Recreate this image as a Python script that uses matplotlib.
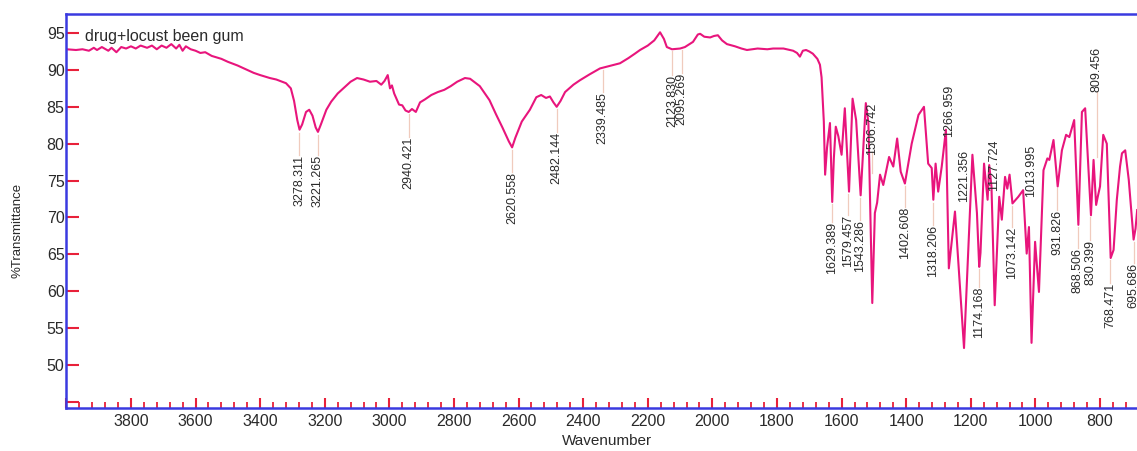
import numpy as np
import matplotlib
matplotlib.use("Agg")
import matplotlib.pyplot as plt

# spectrum (wavenumber, %T)
wavenumber = [
    4000, 3970, 3950, 3930, 3915, 3905, 3890, 3870, 3860, 3845, 3830, 3815, 3800,
    3785, 3770, 3750, 3735, 3720, 3705, 3690, 3675, 3660, 3650, 3640, 3630, 3615,
    3600, 3585, 3570, 3550, 3520, 3500, 3470, 3450, 3420, 3400, 3370, 3350, 3320,
    3305, 3295, 3285, 3278, 3270, 3258, 3248, 3238, 3228, 3221, 3212, 3195, 3180,
    3160, 3140, 3120, 3100, 3080, 3060, 3040, 3025, 3015, 3005, 2998, 2992, 2985,
    2970, 2960, 2950, 2940, 2930, 2918, 2905, 2890, 2870, 2850, 2830, 2810, 2790,
    2766, 2750, 2720, 2690, 2670, 2650, 2630, 2620, 2610, 2590, 2565, 2545, 2530,
    2515, 2503, 2492, 2482, 2470, 2456, 2430, 2410, 2380, 2348, 2339, 2320, 2286,
    2260, 2240, 2224, 2200, 2180, 2162, 2150, 2141, 2125, 2100, 2085, 2060, 2045,
    2038, 2025, 2007, 1995, 1983, 1970, 1955, 1930, 1910, 1893, 1860, 1830, 1812,
    1780, 1750, 1738, 1729, 1720, 1710, 1700, 1689, 1675, 1667, 1662, 1655, 1651,
    1645, 1636, 1629, 1624, 1618, 1610, 1600, 1590, 1577, 1566, 1555, 1541, 1525,
    1517, 1505, 1497, 1490, 1481, 1471, 1453, 1440, 1428, 1417, 1404, 1383, 1362,
    1345, 1332, 1321, 1316, 1309, 1301, 1290, 1277, 1268, 1249, 1221, 1195, 1181,
    1174, 1170, 1159, 1148, 1143, 1136, 1126, 1112, 1104, 1094, 1087, 1080, 1071,
    1053, 1038, 1027, 1020, 1012, 1001, 989, 975, 963, 957, 944, 931, 918, 905,
    895, 880, 867, 856, 846, 828, 820, 812, 807, 800, 790, 779, 767, 758, 748,
    738, 732, 722, 711, 696, 690, 685,
]
transmittance = [
    92.8, 92.7, 92.8, 92.6, 93.0, 92.7, 93.1, 92.6, 93.0, 92.4, 93.1, 92.9, 93.2,
    92.9, 93.3, 93.0, 93.3, 92.8, 93.3, 93.0, 93.5, 92.9, 93.4, 92.6, 93.2, 92.8,
    92.6, 92.3, 92.4, 91.9, 91.5, 91.1, 90.6, 90.2, 89.6, 89.3, 88.9, 88.7, 88.2,
    87.5, 85.8, 83.2, 81.9, 82.6, 84.3, 84.6, 83.8, 82.2, 81.6, 82.6, 84.6, 85.7,
    86.8, 87.6, 88.4, 88.9, 88.7, 88.4, 88.5, 88.0, 88.5, 89.3, 87.5, 87.9, 86.8,
    85.3, 85.2, 84.5, 84.3, 84.7, 84.3, 85.6, 86.0, 86.6, 87.0, 87.3, 87.8, 88.4,
    88.9, 88.8, 87.8, 85.9, 84.0, 82.2, 80.3, 79.5, 80.8, 83.0, 84.6, 86.3, 86.6,
    86.2, 86.4, 85.6, 85.0, 85.8, 87.0, 88.0, 88.6, 89.4, 90.2, 90.3, 90.5, 90.9,
    91.6, 92.2, 92.7, 93.3, 94.0, 95.1, 94.2, 93.1, 92.8, 92.9, 93.1, 93.8, 94.8,
    94.9, 94.5, 94.4, 94.6, 94.7, 94.0, 93.5, 93.2, 92.9, 92.7, 92.9, 92.8, 92.9,
    92.9, 92.6, 92.3, 91.8, 92.6, 92.7, 92.5, 92.2, 91.5, 90.7, 89.0, 83.0, 75.8,
    79.5, 82.8, 72.1, 78.0, 82.3, 81.0, 78.5, 84.8, 73.5, 86.1, 83.2, 73.0, 85.5,
    82.8, 58.4, 70.6, 72.0, 75.8, 74.4, 78.2, 76.9, 80.7, 76.2, 74.6, 80.0, 83.9,
    85.0, 77.3, 76.7, 72.4, 77.3, 73.5, 76.9, 81.9, 63.1, 70.8, 52.3, 78.5, 70.6,
    63.3, 65.2, 77.3, 72.4, 77.1, 74.2, 58.1, 72.8, 69.7, 75.5, 73.9, 75.8, 71.9,
    72.8, 73.7, 65.1, 68.7, 53.0, 66.7, 59.9, 76.4, 78.0, 77.8, 80.5, 74.2, 79.1, 81.2,
    80.9, 83.2, 69.0, 84.3, 84.8, 70.3, 77.8, 71.7, 72.8, 74.2, 81.2, 80.0, 64.5, 65.6, 72.4,
    76.9, 78.7, 79.1, 75.1, 67.0, 68.5, 71.0,
]

# peak labels
peak_labels = [
    "3278.311", "3221.265", "2940.421", "2620.558", "2482.144", "2339.485",
    "2123.830", "2095.269", "1629.389", "1579.457", "1543.286", "1506.742",
    "1402.608", "1318.206", "1266.959", "1221.356", "1174.168", "1127.724",
    "1073.142", "1013.995", "931.826", "868.506", "830.399", "809.456",
    "768.471", "695.686",
]
label_top = [
    78.5, 78.5, 80.9, 76.2, 81.6, 87.0, 89.3, 89.6, 69.4, 70.3, 69.6, 85.5,
    71.4, 69.0, 88.0, 79.1, 60.6, 80.5, 68.7, 79.8, 71.0, 65.9, 67.0, 93.1,
    61.1, 63.8,
]
leader_lo = [
    78.5, 78.5, 80.9, 76.2, 81.6, 87.0, 89.3, 89.6, 69.4, 70.3, 69.6, 76.0,
    71.4, 69.0, 82.1, 72.4, 60.6, 74.1, 68.7, 73.2, 71.0, 65.9, 67.0, 78.2,
    61.1, 63.8,
]
leader_hi = [
    81.5, 81.2, 84.0, 79.2, 84.7, 90.0, 92.6, 92.7, 71.8, 73.2, 72.7, 78.9,
    74.3, 72.0, 82.1, 72.4, 63.0, 74.1, 71.5, 73.2, 74.0, 68.7, 70.0, 87.0,
    64.2, 66.7,
]

W, H = 1137, 451
spine_blue = "#3a3ae0"
tick_red = "#e8213a"
line_pink = "#e8157c"
txt = "#2a2a2a"

plt.rcParams["font.family"] = ["Liberation Sans", "DejaVu Sans"]

fig = plt.figure(figsize=(W / 100, H / 100), dpi=100)
ax = fig.add_axes([66 / W, 1 - 408 / H, 1 - 66 / W, (408 - 14) / H])

for lab, top, lo, hi in zip(peak_labels, label_top, leader_lo, leader_hi):
    x = float(lab)
    if hi > lo:
        ax.plot([x, x], [lo, hi], color="#f0cbbd", lw=0.9, zorder=1)
    ax.text(x, top, lab, rotation=90, ha="center", va="top", fontsize=9,
            color=txt, zorder=3)

ax.plot(wavenumber, transmittance, color=line_pink, lw=1.5, zorder=2)

ax.set_xlim(4001, 685.5)
ax.set_ylim(44.17, 97.58)

ax.set_xticks(np.arange(4000, 699, -200))
ax.set_xticklabels([""] + [str(v) for v in range(3800, 699, -200)])
ax.set_xticks(np.arange(4000, 685, -40), minor=True)
ax.set_yticks(np.arange(45, 96, 5))
ax.set_yticklabels([""] + [str(v) for v in range(50, 96, 5)])

ax.tick_params(axis="both", which="major", direction="in", color=tick_red,
               width=1.5, labelsize=11.5, labelcolor=txt)
ax.tick_params(axis="x", which="major", length=7, pad=4)
ax.tick_params(axis="y", which="major", length=9, pad=1)
ax.tick_params(axis="x", which="minor", direction="in", color=tick_red,
               width=1.3, length=4)
ax.tick_params(top=False, right=False)

for side in ["left", "top", "bottom"]:
    ax.spines[side].set_color(spine_blue)
    ax.spines[side].set_linewidth(1.8)
ax.spines["right"].set_visible(False)

fig.text(18 / W, 1 - 230 / H, "%Transmittance", rotation=90, ha="center",
         va="center", fontsize=9.5, color=txt)
fig.text(607 / W, 1 - 441 / H, "Wavenumber", ha="center", va="center",
         fontsize=11, color=txt)
fig.text(85 / W, 1 - 37 / H, "drug+locust been gum", ha="left", va="center",
         fontsize=11.5, color=txt)

fig.savefig("out.png", dpi=100)
